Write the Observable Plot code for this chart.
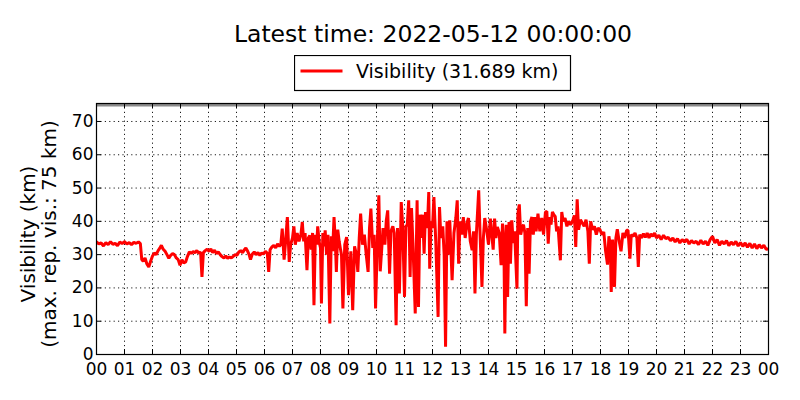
<!DOCTYPE html>
<html>
<head>
<meta charset="utf-8">
<script src="https://cdn.jsdelivr.net/npm/d3@7"></script>
<script src="https://cdn.jsdelivr.net/npm/@observablehq/plot@0.6"></script>
<style>
  html, body { margin: 0; padding: 0; background: white; }
  #wrap { position: relative; width: 800px; height: 400px; font-family: "DejaVu Sans", sans-serif; }
  #title { position: absolute; left: 0; width: 866px; top: 23px; text-align: center; font-size: 23.5px; line-height: 23px; color: black; white-space: nowrap; }
  #legend { position: absolute; left: 294px; top: 55px; }
  #chart { position: absolute; left: 0; top: 0; }
</style>
</head>
<body>
<div id="wrap">
  <div id="chart"></div>
  <div id="title"></div>
  <svg id="legend" width="278" height="37"></svg>
</div>
<script>
const titleText = "Latest time: 2022-05-12 00:00:00";
const seriesName = "Visibility";
const latestValue = "31.689 km";
const yLabelLines = ["Visibility (km)", "(max. rep. vis.: 75 km)"];
const maxReportedVis = 75;
const yTicks = [0, 10, 20, 30, 40, 50, 60, 70];
const hourTicks = d3.range(0, 25);

// minutes after 2022-05-11 00:00 UTC
const times = [
  0,5,10,15,20,25,30,35,40,45,50,55,
  60,65,70,75,80,85,90,94,97,100,104,108,112,116,
  120,124,128,132,136,139,143,147,151,155,159,163,167,171,175,179,
  183,187,191,195,199,203,207,211,215,219,223,226,229,233,237,
  241,245,249,253,257,261,265,269,273,277,281,285,289,293,297,
  301,305,309,313,317,320,324,327,330,334,338,342,346,350,354,358,
  362,366,369,372,376,380,384,388,392,395,398,402,405,409,413,416,
  420,423,426,430,434,438,441,444,447,451,454,457,460,463,466,469,472,474,477,
  480,482,485,488,490,493,496,500,503,506,509,512,514,517,520,523,525,528,532,536,
  540,545,549,553,557,560,563,566,570,574,578,582,585,588,592,595,598,
  602,605,608,611,614,618,621,624,628,631,635,638,642,645,649,653,656,660,663,
  666,669,672,675,678,683,687,690,693,696,699,702,705,709,712,714,717,
  720,723,727,732,735,738,742,745,748,751,754,757,762,766,770,773,776,779,
  783,786,790,794,797,801,805,808,811,814,819,822,826,829,832,836,840,
  844,847,850,853,856,859,863,867,870,873,875,878,881,884,887,890,893,896,
  901,903,906,909,912,915,918,921,924,927,930,933,936,939,942,946,950,954,
  958,962,965,968,971,974,977,980,983,986,989,994,997,1000,1004,1008,1012,1016,
  1020,1024,1027,1030,1033,1037,1041,1045,1049,1053,1056,1059,1063,1067,1071,1075,
  1079,1083,1087,1091,1095,1098,1101,1103,1106,1110,1113,1116,1120,1124,1128,1132,1136,
  1139,1143,1146,1150,1154,1158,1161,1164,1168,1172,1176,1180,1184,1188,1192,
  1196,1200,1205,1210,1215,1220,1225,1230,1235,1240,1245,1250,1255,
  1260,1265,1270,1275,1280,1285,1290,1295,1300,1305,1310,1315,
  1320,1325,1330,1335,1340,1345,1350,1355,1360,1365,1370,1375,
  1380,1385,1390,1395,1400,1405,1410,1415,1420,1425,1430,1435,1440
];

// visibility in km
const visibility = [
  33.8,33.2,33.5,32.6,33.6,33.0,33.9,33.1,33.4,32.7,33.8,33.3,
  33.9,33.2,33.6,33.0,33.7,33.4,33.8,33.3,28.5,28.0,29.0,27.2,26.3,28.0,
  29.6,30.5,30.0,31.2,32.0,32.8,31.6,31.0,30.0,28.9,29.8,30.3,30.0,29.0,28.5,26.8,
  28.5,27.5,27.8,29.5,30.8,30.4,30.9,30.6,31.2,30.5,30.8,23.3,30.6,31.2,31.6,
  31.0,31.7,30.6,31.3,30.3,30.8,30.0,29.4,29.0,29.6,28.9,29.3,29.0,29.5,30.0,
  29.8,30.8,31.2,30.6,31.5,32.0,31.0,30.0,28.5,30.2,30.8,30.0,30.6,29.8,30.5,30.2,
  31.0,30.4,24.8,31.5,32.3,32.8,32.0,33.2,32.5,33.0,37.8,28.5,33.5,41.3,27.8,33.0,
  35.0,38.5,33.0,36.5,34.0,36.0,39.8,34.0,36.5,25.3,35.0,35.8,31.5,36.5,14.8,36.0,33.0,38.5,34.0,
  32.0,15.3,36.5,32.5,37.3,30.0,36.0,9.3,35.5,31.0,41.3,33.0,24.8,37.5,34.0,31.5,30.0,13.8,33.0,35.3,
  17.8,31.0,13.3,32.5,30.0,24.8,35.0,42.3,33.0,36.0,30.0,24.8,38.0,43.8,32.0,36.0,13.8,
  35.0,47.8,25.0,31.3,38.0,33.0,40.3,43.3,24.3,37.0,38.5,36.5,8.8,38.0,18.3,45.8,39.0,17.3,38.5,
  39.0,46.3,23.3,44.0,33.5,12.3,46.3,14.3,42.0,35.0,42.0,30.3,42.8,38.0,48.8,25.8,40.0,
  38.0,47.3,34.0,11.3,44.3,35.0,38.5,30.0,2.3,40.0,30.0,40.3,22.3,36.5,41.0,46.3,27.3,40.0,
  36.0,41.3,35.0,39.5,41.0,34.0,31.3,37.0,18.3,36.0,49.3,36.0,20.3,35.0,41.0,37.5,33.0,
  40.8,36.0,31.5,40.8,35.0,38.3,36.5,26.8,39.3,33.0,6.3,39.0,17.3,39.8,27.3,40.3,33.5,37.0,
  19.8,42.3,45.1,36.0,38.0,39.0,36.5,14.5,38.0,24.3,40.0,41.3,36.0,41.3,37.0,42.3,37.0,41.0,
  36.0,42.8,43.0,33.3,41.3,39.0,42.8,42.0,41.5,37.0,38.5,28.3,42.8,40.0,41.0,38.5,40.0,39.0,
  40.0,41.8,32.3,46.6,37.5,40.5,39.5,38.5,40.5,37.0,27.3,40.0,37.5,38.5,36.0,38.0,
  37.5,36.0,36.8,31.0,27.0,35.5,33.0,18.8,34.5,20.3,35.0,37.6,34.0,31.0,36.5,35.0,37.3,
  37.3,28.8,36.0,35.5,36.5,35.0,26.3,36.0,35.0,36.3,35.2,36.5,35.0,36.2,35.5,
  36.5,35.0,35.8,34.5,35.8,34.8,35.2,34.2,35.0,33.8,34.8,33.5,34.5,
  33.8,34.6,33.2,34.2,33.5,34.0,33.0,34.3,33.2,34.0,32.8,34.5,
  35.5,33.5,34.5,32.8,34.0,33.2,34.2,32.7,33.8,33.0,34.0,32.6,
  33.6,32.5,33.5,32.2,33.4,32.0,33.2,31.8,33.0,32.0,32.8,31.6,31.7
];

const start = Date.UTC(2022, 4, 11, 0, 0);
const data = times.map((m, i) => ({date: new Date(start + m * 60000), vis: visibility[i]}));
const hourDates = hourTicks.map(h => new Date(start + h * 3600000));

const W = 800, H = 400, mt = 103, mb = 46, ml = 96, mr = 32;
const innerH = H - mt - mb, innerW = W - ml - mr;
const tickLen = 5;
const font = "DejaVu Sans";

const chart = Plot.plot({
  width: W, height: H,
  marginTop: mt, marginBottom: mb, marginLeft: ml, marginRight: mr,
  style: {fontFamily: font, fontSize: "17px", background: "white", color: "black"},
  x: {type: "utc", domain: [hourDates[0], hourDates[hourDates.length - 1]]},
  y: {domain: [0, 75.4]},
  marks: [
    Plot.gridX(hourDates, {stroke: "black", strokeOpacity: 1, strokeWidth: 0.9, strokeDasharray: "1.2,3.2"}),
    Plot.gridY(yTicks, {stroke: "black", strokeOpacity: 1, strokeWidth: 0.9, strokeDasharray: "1.2,3.2"}),
    Plot.ruleY([maxReportedVis], {stroke: "#8a8a8a", strokeWidth: 3.5, clip: true}),
    Plot.line(data, {x: "date", y: "vis", stroke: "#ff0000", strokeWidth: 3, strokeLinejoin: "miter", clip: true}),
    // inward ticks on all four sides
    Plot.ruleX(hourDates, {stroke: "black", strokeWidth: 1, insetTop: innerH - tickLen}),
    Plot.ruleX(hourDates, {stroke: "black", strokeWidth: 1, insetBottom: innerH - tickLen}),
    Plot.ruleY(yTicks, {stroke: "black", strokeWidth: 1, insetRight: innerW - tickLen}),
    Plot.ruleY(yTicks, {stroke: "black", strokeWidth: 1, insetLeft: innerW - tickLen}),
    Plot.axisX(hourDates, {tickSize: 0, tickPadding: 8, tickFormat: d3.utcFormat("%H"), fontSize: 17, label: null, fill: "black"}),
    Plot.axisY(yTicks, {tickSize: 0, tickPadding: 3, fontSize: 17, label: null, fill: "black"}),
    Plot.frame({stroke: "black", strokeWidth: 1.2}),
    Plot.text([yLabelLines[0]], {frameAnchor: "left", rotate: -90, dx: -68, dy: 5, fontSize: 20, fill: "black", textAnchor: "middle", lineAnchor: "middle"}),
    Plot.text([yLabelLines[1]], {frameAnchor: "left", rotate: -90, dx: -47, dy: 5, fontSize: 20, fill: "black", textAnchor: "middle", lineAnchor: "middle"})
  ]
});
document.getElementById("chart").appendChild(chart);

document.getElementById("title").textContent = titleText;

const lg = d3.select("#legend");
lg.append("rect").attr("x", 0.5).attr("y", 0.5).attr("width", 276).attr("height", 35)
  .attr("fill", "white").attr("stroke", "black").attr("stroke-width", 1.2);
lg.append("line").attr("x1", 6.5).attr("x2", 48.5).attr("y1", 16).attr("y2", 16)
  .attr("stroke", "#ff0000").attr("stroke-width", 2.8);
lg.append("text").attr("x", 62).attr("y", 23).attr("font-family", font).attr("font-size", 19)
  .attr("fill", "black").text(`${seriesName} (${latestValue})`);
</script>
</body>
</html>
